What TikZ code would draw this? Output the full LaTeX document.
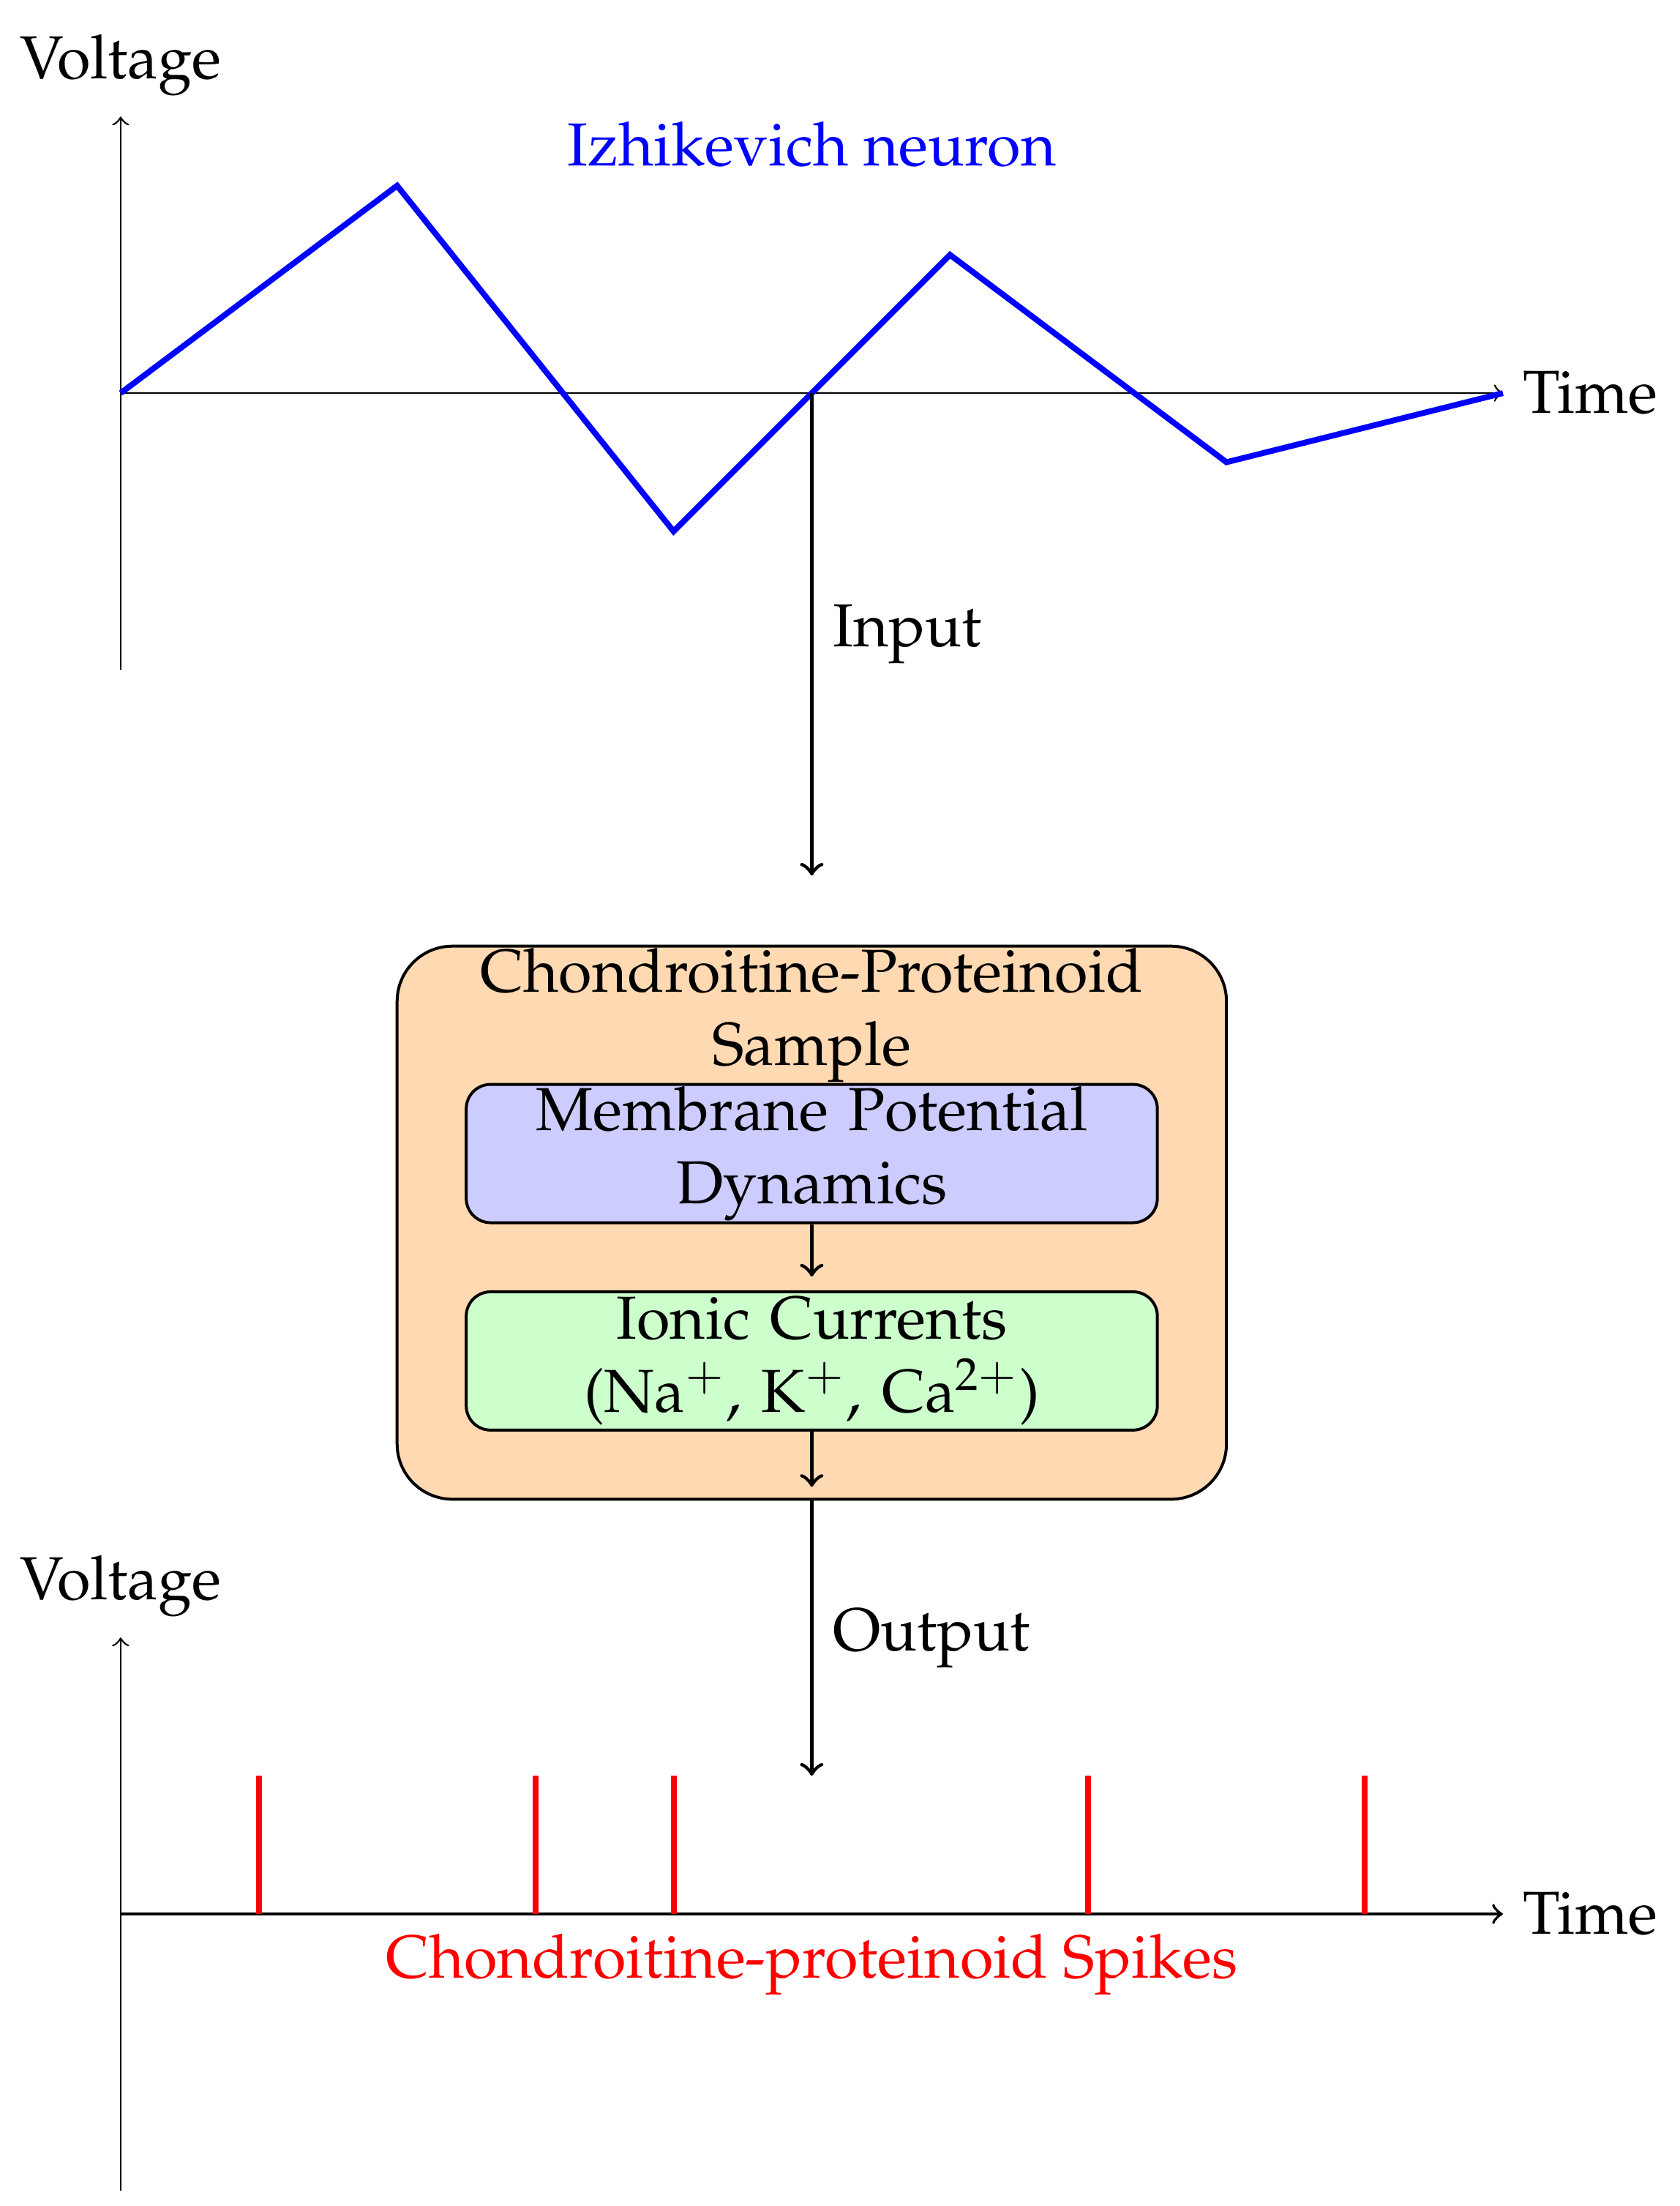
\documentclass[tikz,border=0pt,12pt]{standalone}
\usepackage[T1]{fontenc}
\usepackage{mathpazo}
\begin{document}
\begin{tikzpicture}[
  every node/.style={font=\fontsize{12.5pt}{15pt}\selectfont},
  axis/.style={->},
  flow/.style={->, thick},
  box/.style={draw, semithick, rounded corners=5pt, minimum width=5cm, minimum height=1cm, inner sep=0pt, text width=5cm, align=center},
  outerbox/.style={draw, semithick, rounded corners=0.4cm, fill=orange!30, minimum width=6cm, minimum height=4cm, inner sep=0pt},
  spike/.style={red, very thick}
]
\useasboundingbox (-0.873,-13.112) rectangle (11.276,2.843);

% ---------- top plot ----------
\coordinate (o1) at (0,0);
\coordinate (ytop1) at (0,2);
\coordinate (ybot1) at (0,-2);
\coordinate (xend1) at (10,0);
\coordinate (cross) at (5,0);
\draw[axis] (o1) -- (xend1);
\draw[axis] (ybot1) -- (ytop1);
\node[above] (volt1) at (ytop1) {Voltage};
\node[right] (time1) at (xend1) {Time};
\draw[blue, very thick] (0,0) -- (2,1.5) -- (4,-1) -- (5,0) -- (6,1) -- (8,-0.5) -- (10,0);
\node[blue] (izh) at (5,1.8) {Izhikevich neuron};

% ---------- sample box ----------
\node[outerbox] (sample) at (5,-6) {};
\node[anchor=north, inner sep=0pt, align=center] (title) at (5,-4.01) {Chondroitine-Proteinoid\\Sample};
\node[box, fill=blue!20] (mem) at (5,-5.5) {Membrane Potential\\Dynamics};
\node[box, fill=green!20] (ion) at (5,-7) {Ionic Currents\\(Na$^+$, K$^+$, Ca$^{2+}$)};
\draw[flow, shorten >=0.1cm] (mem.south) -- (ion.north);
\draw[flow, shorten >=0.1cm] (ion.south) -- (sample.south);

\draw[flow, shorten >=0.5cm] (cross) -- node[right, pos=0.4375] (inlab) {Input} (sample.north);

% ---------- bottom plot ----------
\coordinate (o2) at (0,-11);
\coordinate (ytop2) at (0,-9);
\coordinate (ybot2) at (0,-13);
\coordinate (xend2) at (10,-11);
\coordinate (outtip) at (5,-10);
\draw[flow] (sample.south) -- node[right] (outlab) {Output} (outtip);
\draw[axis, line width=0.6pt] (o2) -- (xend2);
\draw[axis] (ybot2) -- (ytop2);
\node[above] (volt2) at (ytop2) {Voltage};
\node[right] (time2) at (xend2) {Time};
\foreach \x in {1,3,4,7,9} \draw[spike] (\x,-11) -- (\x,-10);
\node[below, red] (spikelab) at (5,-11) {Chondroitine-proteinoid Spikes};
\end{tikzpicture}
\end{document}
